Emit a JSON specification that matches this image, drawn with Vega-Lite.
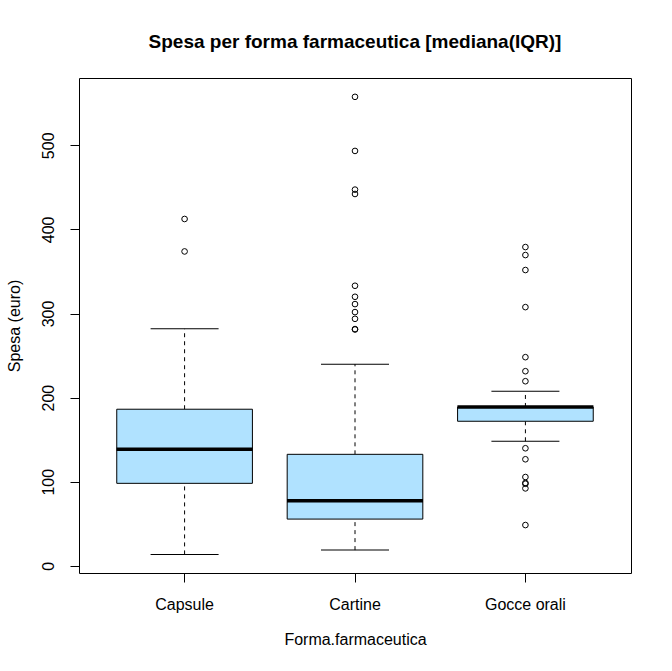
{
  "$schema": "https://vega.github.io/schema/vega-lite/v6.json",
  "width": 552,
  "height": 495,
  "autosize": {"type": "none"},
  "padding": {"left": 79, "top": 78, "right": 41, "bottom": 98},
  "background": "white",
  "title": {
    "text": "Spesa per forma farmaceutica [mediana(IQR)]",
    "font": "Liberation Sans",
    "fontSize": 19,
    "fontWeight": "bold",
    "color": "black",
    "anchor": "middle",
    "frame": "group",
    "offset": 26
  },
  "config": {
    "view": {"stroke": "black", "strokeWidth": 1},
    "axis": {
      "labelFont": "Liberation Sans",
      "titleFont": "Liberation Sans",
      "labelFontSize": 16,
      "titleFontSize": 16,
      "titleFontWeight": "normal",
      "labelColor": "black",
      "titleColor": "black",
      "tickColor": "black",
      "domain": false,
      "grid": false,
      "tickSize": 9
    }
  },
  "datasets": {
    "stats": [
      {"forma": "Capsule", "lower": 13.6, "q1": 98.1, "median": 138.6, "q3": 186.2, "upper": 281.8},
      {"forma": "Cartine", "lower": 18.7, "q1": 55.6, "median": 77.4, "q3": 132.6, "upper": 239.8},
      {"forma": "Gocce orali", "lower": 148.1, "q1": 171.9, "median": 188.9, "q3": 188.9, "upper": 207.6}
    ],
    "outliers": [
      {"forma": "Capsule", "spesa": 412.4},
      {"forma": "Capsule", "spesa": 373.8},
      {"forma": "Cartine", "spesa": 557.6},
      {"forma": "Cartine", "spesa": 493.3},
      {"forma": "Cartine", "spesa": 447.3},
      {"forma": "Cartine", "spesa": 442.1},
      {"forma": "Cartine", "spesa": 333.0},
      {"forma": "Cartine", "spesa": 319.9},
      {"forma": "Cartine", "spesa": 311.2},
      {"forma": "Cartine", "spesa": 301.7},
      {"forma": "Cartine", "spesa": 293.7},
      {"forma": "Cartine", "spesa": 281.0},
      {"forma": "Cartine", "spesa": 281.5},
      {"forma": "Gocce orali", "spesa": 379.0},
      {"forma": "Gocce orali", "spesa": 369.5},
      {"forma": "Gocce orali", "spesa": 351.7},
      {"forma": "Gocce orali", "spesa": 307.6},
      {"forma": "Gocce orali", "spesa": 248.1},
      {"forma": "Gocce orali", "spesa": 231.4},
      {"forma": "Gocce orali", "spesa": 219.5},
      {"forma": "Gocce orali", "spesa": 139.8},
      {"forma": "Gocce orali", "spesa": 126.7},
      {"forma": "Gocce orali", "spesa": 105.6},
      {"forma": "Gocce orali", "spesa": 98.6},
      {"forma": "Gocce orali", "spesa": 97.6},
      {"forma": "Gocce orali", "spesa": 92.1},
      {"forma": "Gocce orali", "spesa": 48.5}
    ]
  },
  "encoding": {
    "x": {
      "field": "forma",
      "type": "nominal",
      "sort": ["Capsule", "Cartine", "Gocce orali"],
      "scale": {"type": "band", "paddingInner": 0.204, "paddingOuter": 0.2216},
      "axis": {"title": "Forma.farmaceutica", "labelAngle": 0, "labelPadding": 14, "titlePadding": 19}
    }
  },
  "layer": [
    {
      "data": {"name": "stats"},
      "mark": {"type": "rule", "color": "black", "strokeWidth": 1, "strokeDash": [4, 4], "opacity": 1},
      "encoding": {
        "y": {"field": "lower", "type": "quantitative", "title": "Spesa (euro)", "scale": {"domain": [-8.5, 580], "nice": false, "zero": false},
              "axis": {"values": [0, 100, 200, 300, 400, 500], "labelAngle": -90, "labelPadding": 14, "titlePadding": 18}},
        "y2": {"field": "q1", "title": "Spesa (euro)"}
      }
    },
    {
      "data": {"name": "stats"},
      "mark": {"type": "rule", "color": "black", "strokeWidth": 1, "strokeDash": [4, 4], "opacity": 1},
      "encoding": {
        "y": {"field": "q3", "type": "quantitative", "title": "Spesa (euro)"},
        "y2": {"field": "upper", "title": "Spesa (euro)"}
      }
    },
    {
      "data": {"name": "stats"},
      "mark": {"type": "tick", "color": "black", "size": 68, "thickness": 1, "opacity": 1},
      "encoding": {"y": {"field": "lower", "type": "quantitative", "title": "Spesa (euro)"}}
    },
    {
      "data": {"name": "stats"},
      "mark": {"type": "tick", "color": "black", "size": 68, "thickness": 1, "opacity": 1},
      "encoding": {"y": {"field": "upper", "type": "quantitative", "title": "Spesa (euro)"}}
    },
    {
      "data": {"name": "stats"},
      "mark": {"type": "bar", "fill": "#B0E2FF", "stroke": "black", "strokeWidth": 1, "opacity": 1},
      "encoding": {
        "y": {"field": "q1", "type": "quantitative", "title": "Spesa (euro)"},
        "y2": {"field": "q3", "title": "Spesa (euro)"}
      }
    },
    {
      "data": {"name": "stats"},
      "mark": {"type": "tick", "color": "black", "size": 136, "thickness": 3.5, "opacity": 1},
      "encoding": {"y": {"field": "median", "type": "quantitative", "title": "Spesa (euro)"}}
    },
    {
      "data": {"name": "outliers"},
      "mark": {"type": "point", "shape": "circle", "filled": false, "stroke": "black", "strokeWidth": 1, "size": 32, "opacity": 1},
      "encoding": {"y": {"field": "spesa", "type": "quantitative", "title": "Spesa (euro)"}}
    }
  ]
}
